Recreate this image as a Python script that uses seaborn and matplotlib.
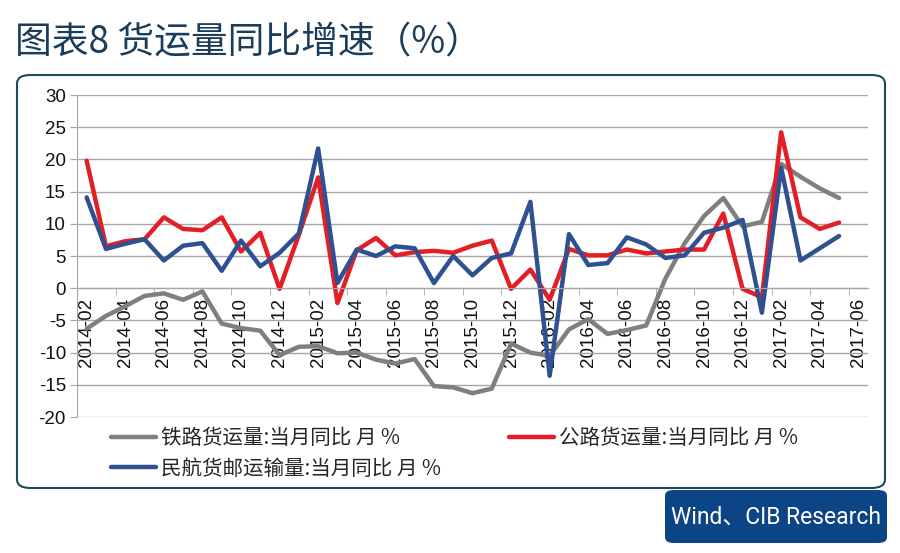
import matplotlib
matplotlib.use("Agg")
import matplotlib.pyplot as plt
from matplotlib.patches import FancyBboxPatch
from matplotlib.ticker import FixedLocator, MultipleLocator
import numpy as np
import pandas as pd
import seaborn as sns

# 月份 2014-02 ... 2017-05 (数据), 轴上多一个 2017-06
months = pd.period_range("2014-02", "2017-05", freq="M").strftime("%Y-%m").tolist()
axis_months = pd.period_range("2014-02", "2017-06", freq="M").strftime("%Y-%m").tolist()
tick_labels = axis_months[::2]

rail = [-6.3, -4.3, -2.8, -1.2, -0.8, -1.8, -0.5, -5.5, -6.2, -6.6,
        -10.4, -9.1, -9.0, -10.1, -10.0, -11.1, -11.7, -11.0, -15.2, -15.4,
        -16.3, -15.6, -8.6, -10.0, -10.5, -6.4, -4.8, -7.1, -6.5, -5.8,
        1.5, 7.0, 11.2, 14.0, 9.6, 10.3, 19.3, 17.3, 15.5, 14.0]
road = [19.8, 6.5, 7.3, 7.6, 11.0, 9.2, 9.0, 11.0, 5.7, 8.6,
        -0.1, 8.3, 17.2, -2.3, 5.9, 7.8, 5.1, 5.6, 5.8, 5.5,
        6.6, 7.4, -0.1, 2.9, -1.8, 6.1, 5.1, 5.1, 6.0, 5.4,
        5.7, 6.0, 6.0, 11.6, -0.1, -1.4, 24.2, 11.0, 9.2, 10.2]
air = [14.1, 6.1, 6.9, 7.6, 4.3, 6.6, 7.0, 2.7, 7.4, 3.4,
       5.5, 8.5, 21.7, 0.8, 6.0, 5.0, 6.5, 6.2, 0.8, 5.0,
       2.0, 4.7, 5.4, 13.4, -13.6, 8.4, 3.6, 3.9, 7.9, 6.8,
       4.7, 5.1, 8.6, 9.4, 10.6, -3.8, 18.7, 4.3, 6.2, 8.1]

names = ["铁路货运量:当月同比 月 %", "公路货运量:当月同比 月 %", "民航货邮运输量:当月同比 月 %"]
colors = ["#7f7f7f", "#e31e24", "#2f5192"]

df = pd.concat([
    pd.DataFrame({"idx": np.arange(len(months)), "month": months, "value": v, "series": n})
    for v, n in zip([rail, road, air], names)
])

sns.set_style("white")
plt.rcParams["font.family"] = ["Liberation Sans", "Noto Sans CJK SC", "DejaVu Sans"]
plt.rcParams["axes.unicode_minus"] = False

fig = plt.figure(figsize=(9, 5.53), dpi=100)

# 外框
frame = FancyBboxPatch((17 / 900, 1 - 488 / 553), 868 / 900, 413 / 553,
                       boxstyle="round,pad=0,rounding_size=0.015",
                       transform=fig.transFigure, fill=False,
                       edgecolor="#1d4b5c", linewidth=1.5)
fig.patches.append(frame)

ax = fig.add_axes([77 / 900, 1 - 417 / 553, 791 / 900, 322 / 553])
sns.lineplot(data=df, x="idx", y="value", hue="series", hue_order=names,
             palette=colors, linewidth=3.2, ax=ax, sort=False)

ax.set_xlim(-0.5, len(axis_months) - 0.5)
ax.set_ylim(-20, 30)
ax.yaxis.set_major_locator(MultipleLocator(5))
ax.grid(axis="y", color="#a6a6a6", linewidth=1)
ax.set_axisbelow(True)
ax.set_xlabel("")
ax.set_ylabel("")

for s in ["top", "right"]:
    ax.spines[s].set_visible(False)
ax.spines["left"].set_color("#a6a6a6")
ax.spines["bottom"].set_color("#a6a6a6")
ax.spines["bottom"].set_position(("data", 0))

ax.xaxis.set_major_locator(FixedLocator(np.arange(0, len(axis_months), 2)))
ax.set_xticklabels(tick_labels, rotation=90, fontsize=13.5, va="top")
ax.xaxis.set_minor_locator(FixedLocator(np.arange(1.5, len(axis_months) - 1, 2)))
ax.tick_params(axis="x", which="major", length=0, pad=7, colors="#111111")
ax.tick_params(axis="x", which="minor", bottom=True, length=5, direction="out", color="#a6a6a6")
ax.tick_params(axis="y", left=True, length=5, direction="out", color="#a6a6a6",
               labelsize=13.5, labelcolor="#111111", pad=3)

handles, labels = ax.get_legend_handles_labels()
ax.get_legend().remove()
order = [0, 2, 1]
fig.legend([handles[i] for i in order], [labels[i] for i in order],
           loc="upper left", bbox_to_anchor=(111 / 900, 1 - 427 / 553),
           ncol=2, frameon=False, handlelength=2.2, handletextpad=0.25,
           columnspacing=3.3, labelspacing=0.42, borderpad=0, borderaxespad=0,
           prop={"family": ["Noto Sans CJK SC"], "size": 14.8})

fig.text(15 / 900, 1 - 43 / 553, "图表8 货运量同比增速（%）", fontsize=26.5,
         family=["Noto Sans CJK SC"], fontweight="medium", color="#1b3d5c",
         va="center", ha="left")

wind = FancyBboxPatch((665 / 900, 1 - 543 / 553), 222 / 900, 53 / 553,
                      boxstyle="round,pad=0,rounding_size=0.01",
                      transform=fig.transFigure, facecolor="#0b4586",
                      edgecolor="none")
fig.patches.append(wind)
fig.text(776 / 900, 1 - 517 / 553, "Wind、CIB Research", fontsize=16.5,
         family=["Roboto", "Noto Sans CJK SC"], color="white",
         ha="center", va="center")

fig.savefig("out.png", dpi=100)
